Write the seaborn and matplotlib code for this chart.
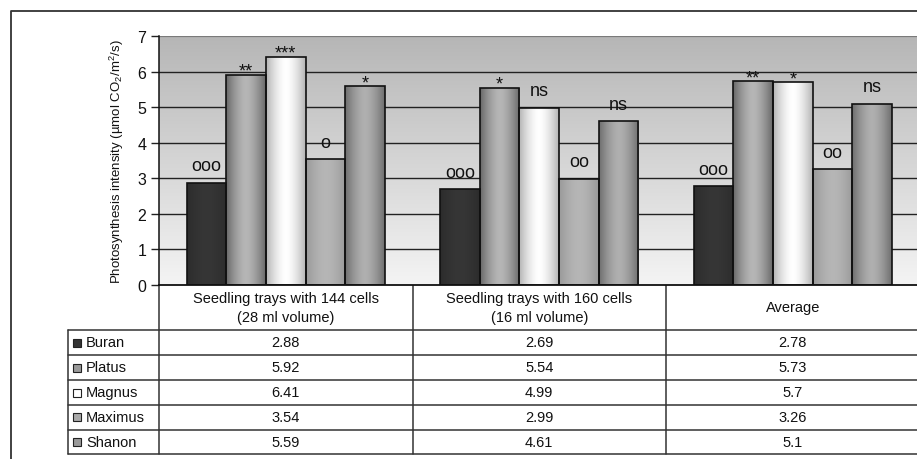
import numpy as np
import pandas as pd
import matplotlib
matplotlib.use('Agg')
import matplotlib.pyplot as plt
import seaborn as sns
from matplotlib.colors import to_rgb

# data
groups = ['Seedling trays with 144 cells\n(28 ml volume)',
          'Seedling trays with 160 cells\n(16 ml volume)',
          'Average']
varieties = ['Buran', 'Platus', 'Magnus', 'Maximus', 'Shanon']
buran = [2.88, 2.69, 2.78]
platus = [5.92, 5.54, 5.73]
magnus = [6.41, 4.99, 5.7]
maximus = [3.54, 2.99, 3.26]
shanon = [5.59, 4.61, 5.1]
signif = {
    'Buran': ['ooo', 'ooo', 'ooo'],
    'Platus': ['**', '*', '**'],
    'Magnus': ['***', 'ns', '*'],
    'Maximus': ['o', 'oo', 'oo'],
    'Shanon': ['*', 'ns', 'ns'],
}
yticks = [0, 1, 2, 3, 4, 5, 6, 7]

values = {'Buran': buran, 'Platus': platus, 'Magnus': magnus,
          'Maximus': maximus, 'Shanon': shanon}
df = pd.DataFrame([(g, v, values[v][i]) for v in varieties
                   for i, g in enumerate(groups)],
                  columns=['group', 'variety', 'value'])

# bar shading: (edge colour, centre colour)
shades = {
    'Buran': ('#2c2c2c', '#363636'),
    'Platus': ('#686868', '#b6b6b6'),
    'Magnus': ('#b4b4b4', '#ffffff'),
    'Maximus': ('#9a9a9a', '#b6b6b6'),
    'Shanon': ('#6e6e6e', '#b0b0b0'),
}
swatch = {'Buran': '#333333', 'Platus': '#9a9a9a', 'Magnus': '#ffffff',
          'Maximus': '#aaaaaa', 'Shanon': '#9a9a9a'}

sns.set_theme(style='white')
plt.rcParams['font.family'] = ['Liberation Sans', 'DejaVu Sans']
plt.rcParams['mathtext.default'] = 'regular'

W, H = 917, 460
fig = plt.figure(figsize=(W / 100, H / 100), dpi=100)

# pixel layout
ax_left, ax_top, ax_bottom, col_w = 159, 37.3, 286, 253.5
ax = fig.add_axes([ax_left / W, (H - ax_bottom) / H,
                   3 * col_w / W, (ax_bottom - ax_top) / H])

sns.barplot(data=df, x='group', y='value', hue='variety', order=groups,
            hue_order=varieties, palette=[swatch[v] for v in varieties],
            width=0.78, ax=ax, legend=False, errorbar=None)
ax.set_xlim(-0.5, 2.5)
ax.set_ylim(0, 7)

# plot area gradient
bg = np.linspace(0, 1, 256)[:, None]
top_c, bot_c = np.array(to_rgb('#b6b6b6')), np.array(to_rgb('#f4f4f4'))
bg_img = top_c[None, None, :] * (1 - bg[..., None]) + bot_c[None, None, :] * bg[..., None]
ax.imshow(bg_img, extent=[-0.5, 2.5, 0, 7], aspect='auto', zorder=0,
          origin='upper')

for y in yticks[1:-1]:
    ax.axhline(y, color='#222222', lw=1.0, zorder=1)
ax.axhline(7, color='#7a7a7a', lw=1.6, zorder=1)

# bars with horizontal cylinder shading
u = np.linspace(0, 1, 64)
prof = 1 - np.abs(2 * u - 1) ** 1.6
for cont, v in zip(ax.containers, varieties):
    e, c = np.array(to_rgb(shades[v][0])), np.array(to_rgb(shades[v][1]))
    img = (e[None, :] * (1 - prof[:, None]) + c[None, :] * prof[:, None])[None, :, :]
    for i, p in enumerate(cont.patches):
        x0, w, h = p.get_x(), p.get_width(), p.get_height()
        im = ax.imshow(img, extent=[x0, x0 + w, 0, h], aspect='auto', zorder=2)
        im.set_clip_path(p)
        p.set_facecolor('none')
        p.set_edgecolor('#111111')
        p.set_linewidth(1.2)
        p.set_zorder(3)
        lab = signif[v][i]
        if '*' in lab:
            # asterisks sit high in the glyph box, pull them down to the bar
            ax.annotate(lab, (x0 + w / 2, h), xytext=(0, -0.5),
                        textcoords='offset points', ha='center', va='baseline',
                        fontsize=13, color='#111111', zorder=4)
        else:
            ax.annotate(lab, (x0 + w / 2, h), xytext=(0, 6),
                        textcoords='offset points', ha='center', va='bottom',
                        fontsize=13, color='#111111', zorder=4)

ax.set_xlim(-0.5, 2.5)
ax.set_ylim(0, 7)
ax.set_yticks(yticks)
ax.set_xticks([])
ax.set_xlabel('')
ax.set_ylabel(r'Photosynthesis intensity (µmol CO$_2$/m$^2$/s)', fontsize=9.5,
              color='#111111', labelpad=8)
ax.tick_params(axis='y', left=True, length=6, width=1, color='#222222',
               direction='out', labelsize=11.5, labelcolor='#111111', pad=3)
for s in ['top', 'right']:
    ax.spines[s].set_visible(False)
ax.spines['left'].set_color('#111111')
ax.spines['bottom'].set_color('#111111')
ax.spines['left'].set_linewidth(1.1)
ax.spines['bottom'].set_linewidth(1.3)

# data table under the plot, drawn in pixel coordinates
tab = fig.add_axes([0, 0, 1, 1], zorder=-1)
tab.set_xlim(0, W)
tab.set_ylim(H, 0)
tab.axis('off')
tab.patch.set_alpha(0)

lc = '#333333'
tab_left = 68
fs = 10.5
row_edges = [331, 356, 381, 406, 430.5, 455]
for y in row_edges:
    tab.plot([tab_left, W], [y, y], color=lc, lw=1.1)
tab.plot([tab_left, tab_left], [row_edges[0], row_edges[-1]], color=lc, lw=1.1)
for k in range(3):
    x = ax_left + k * col_w
    tab.plot([x, x], [ax_bottom, row_edges[-1]], color=lc, lw=1.1)

for k, g in enumerate(groups):
    cx = ax_left + (k + 0.5) * col_w
    tab.text(cx, (ax_bottom + row_edges[0]) / 2, g, ha='center', va='center',
             fontsize=fs, linespacing=1.45, color='#111111')

for r, v in enumerate(varieties):
    cy = (row_edges[r] + row_edges[r + 1]) / 2
    tab.add_patch(plt.Rectangle((73, cy - 4), 8, 8, facecolor=swatch[v],
                                edgecolor='#222222', lw=0.8))
    tab.text(86, cy, v, ha='left', va='center', fontsize=fs, color='#111111')
    for k in range(3):
        cx = ax_left + (k + 0.5) * col_w
        tab.text(cx, cy, f'{values[v][k]:g}', ha='center', va='center',
                 fontsize=fs, color='#111111')

# outer chart frame
tab.plot([10.5, 10.5, W], [H, 11.5, 11.5], color='#333333', lw=1.3)

fig.savefig('out.png', dpi=100)
